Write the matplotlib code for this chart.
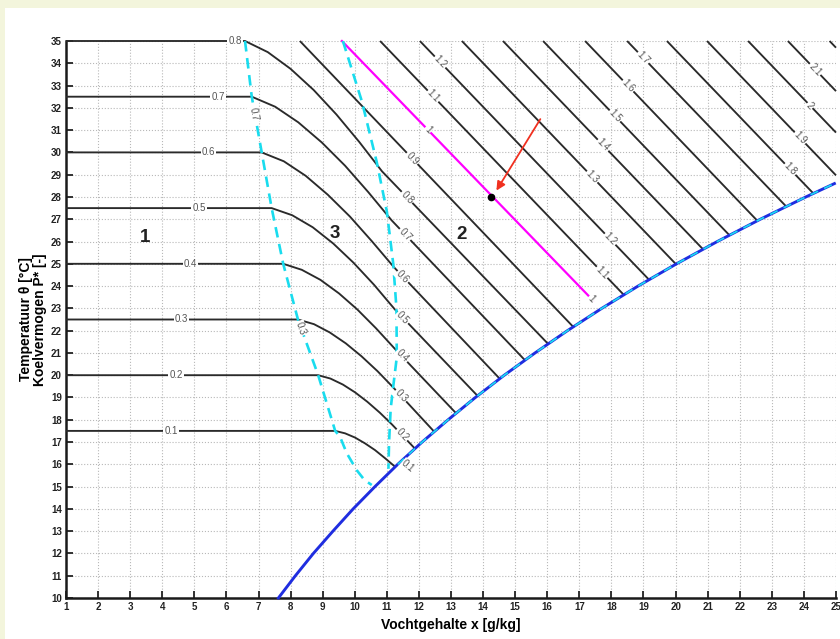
import numpy as np
import matplotlib
matplotlib.use("Agg")
import matplotlib.pyplot as plt
from matplotlib.patches import Rectangle

plt.rcParams['font.family'] = ['Liberation Sans', 'DejaVu Sans']

# Saturation line: temperature T [°C] and moisture content x [g/kg]
sat_T = [10, 11, 12, 13, 14, 15, 16, 17, 18, 19, 20, 21, 22, 23, 24, 25, 26, 27, 28, 28.6]
sat_x = [7.62, 8.15, 8.71, 9.32, 9.95, 10.63, 11.34, 12.10, 12.91, 13.76, 14.66,
         15.62, 16.63, 17.70, 18.83, 20.03, 21.30, 22.64, 24.06, 24.95]

# Zone boundaries (cyan dashed)
bound_left_x = [6.58, 6.79, 7.10, 7.41, 7.77, 8.23, 8.86, 9.39, 9.54, 9.75, 10.06, 10.30, 10.53]
bound_left_T = [35.0, 32.5, 30.0, 27.5, 25.0, 22.5, 20.0, 17.5, 17.24, 16.5, 15.74, 15.30, 15.07]
bound_right_x = [9.63, 10.22, 10.68, 11.00, 11.20, 11.30, 11.31, 11.20, 11.12, 11.07, 11.05]
bound_right_T = [35.0, 32.3, 29.6, 27.35, 25.0, 23.0, 20.8, 19.5, 18.5, 17.0, 15.8]

# Cooling capacity P* contours in zones 1, 3 and 2 (levels 0.1 .. 0.8):
# horizontal part from x = 1, curved part in zone 3, straight part in zone 2
low_levels = [0.1, 0.2, 0.3, 0.4, 0.5, 0.6, 0.7, 0.8]
low_x = [
    [9.39, 9.70, 10.01, 10.32, 10.63, 10.94, 11.25],
    [8.86, 9.24, 9.63, 10.01, 10.39, 10.78, 11.16, 11.88],
    [8.23, 8.73, 9.22, 9.72, 10.21, 10.71, 11.20, 12.48],
    [7.77, 8.35, 8.93, 9.51, 10.08, 10.66, 11.24, 13.16],
    [7.41, 8.05, 8.69, 9.33, 9.96, 10.60, 11.24, 13.83],
    [7.10, 7.79, 8.47, 9.16, 9.85, 10.53, 11.22, 14.52],
    [6.79, 7.52, 8.24, 8.97, 9.70, 10.42, 11.15, 15.30],
    [6.58, 7.29, 8.00, 8.72, 9.43, 10.14, 10.85, 16.03],
]
low_T = [
    [17.5, 17.39, 17.20, 16.94, 16.64, 16.28, 15.90],
    [20.0, 19.85, 19.58, 19.23, 18.81, 18.32, 17.79, 16.70],
    [22.5, 22.29, 21.92, 21.43, 20.85, 20.18, 19.45, 17.46],
    [25.0, 24.73, 24.28, 23.67, 22.95, 22.11, 21.20, 18.29],
    [27.5, 27.18, 26.64, 25.91, 25.05, 24.06, 22.97, 19.07],
    [30.0, 29.60, 28.95, 28.10, 27.12, 26.02, 24.85, 19.84],
    [32.5, 32.05, 31.35, 30.45, 29.40, 28.22, 26.95, 20.68],
    [35.0, 34.50, 33.75, 32.80, 31.70, 30.47, 29.15, 21.40],
]
low_label_h = [4.27, 4.43, 4.60, 4.87, 5.15, 5.45, 5.74, 6.27]
low_label_d = [11.66, 11.47, 11.44, 11.47, 11.50, 11.50, 11.57, 11.63]

# Straight contours in zone 2 (levels 0.9 .. 2.2): start and end points
high_levels = [0.9, 1.0, 1.1, 1.2, 1.3, 1.4, 1.5, 1.6, 1.7, 1.8, 1.9, 2.0, 2.1, 2.2]
high_x0 = [8.29, 9.60, 10.79, 12.03, 13.34, 14.62, 15.87, 17.18, 18.49, 19.73, 20.98, 22.26, 23.50, 24.80]
high_T0 = [35.0] * 14
high_x1 = [16.81, 17.43, 18.39, 19.17, 20.00, 20.85, 21.68, 22.55, 23.45, 24.30, 25.0, 25.0, 25.0, 25.0]
high_T1 = [22.17, 23.35, 23.60, 24.29, 25.00, 25.66, 26.28, 26.93, 27.57, 28.15, 28.97, 30.89, 32.75, 34.70]
high_labels = [[11.79], [12.28, 17.38], [12.44, 17.71], [12.66, 17.96], [17.40], [17.74],
               [18.11], [18.52], [18.99], [23.57], [23.88], [24.19], [24.35], []]

# Operating point and arrow
point_x, point_T = 14.24, 28.02
arrow_from = (15.83, 31.6)
arrow_to = (14.37, 28.18)

# Zone numbers
zone_names = ['1', '3', '2']
zone_x = [3.46, 9.39, 13.34]
zone_T = [26.2, 26.38, 26.3]

fig = plt.figure(figsize=(8.4, 6.39), dpi=100)
fig.patch.set_facecolor('#f3f5dc')
fig.add_artist(Rectangle((5 / 840, 0), 1, (639 - 8) / 639, transform=fig.transFigure,
                         facecolor='white', edgecolor='none', zorder=0))
ax = fig.add_axes([66 / 840, 41 / 639, 770 / 840, 557 / 639])
ax.set_facecolor('white')
ax.set_xlim(1, 25)
ax.set_ylim(10, 35)
ax.set_xticks(range(1, 26))
ax.set_yticks(range(10, 36))
ax.grid(True, ls=':', color='#b8b8b8', lw=0.8)
ax.set_axisbelow(True)
for s in ['top', 'right']:
    ax.spines[s].set_visible(False)
for s in ['left', 'bottom']:
    ax.spines[s].set_linewidth(1.8)
    ax.spines[s].set_color('#1a1a1a')
ax.tick_params(direction='in', length=5, width=1.3, labelsize=7, pad=3, colors='#222222')
for lab in ax.get_xticklabels() + ax.get_yticklabels():
    lab.set_fontweight('bold')

line_kw = dict(color='#2a2a2a', lw=1.35, solid_capstyle='butt', clip_on=False, zorder=3)
lab_kw = dict(fontsize=7, color='#555555', ha='center', va='center', zorder=6,
              bbox=dict(facecolor='white', edgecolor='none', pad=0.7))

# low-level contours
for lev, xs, Ts, xh, xd in zip(low_levels, low_x, low_T, low_label_h, low_label_d):
    px = [1.0] + xs
    pT = [Ts[0]] + Ts
    ax.plot(px, pT, **line_kw)
    ax.text(xh, Ts[0], f"{lev:g}", **lab_kw)
    Td = np.interp(xd, xs, Ts)
    ang = np.degrees(np.arctan2(Ts[-1] - Ts[-2], xs[-1] - xs[-2]))
    ax.text(xd, Td, f"{lev:g}", rotation=ang, transform_rotates_text=True, **lab_kw)

# high-level contours
for lev, x0, T0, x1, T1, labs in zip(high_levels, high_x0, high_T0, high_x1, high_T1, high_labels):
    if lev == 1.0:
        ax.plot([x0, x1], [T0, T1], color='#ff00ff', lw=1.6, zorder=4, clip_on=False)
    else:
        ax.plot([x0, x1], [T0, T1], **line_kw)
    ang = np.degrees(np.arctan2(T1 - T0, x1 - x0))
    for xl in labs:
        Tl = np.interp(xl, [x0, x1], [T0, T1])
        ax.text(xl, Tl, f"{lev:g}", rotation=ang, transform_rotates_text=True, **lab_kw)

# labels along the left boundary
ax.text(6.85, 31.7, "0.7", rotation=-80, **lab_kw)
ax.text(8.30, 22.1, "0.3", rotation=-72, **lab_kw)

# saturation line with the boundary running along it
ax.plot(sat_x, sat_T, color='#1f2de0', lw=2.1, zorder=5, clip_on=False)
ax.plot(sat_x[6:], sat_T[6:], color='#19e0f0', lw=1.2, ls=(0, (5, 4)), zorder=5)

# zone boundaries
cyan_kw = dict(color='#19dcee', lw=1.9, ls=(0, (4, 2.5)), zorder=4)
ax.plot(bound_left_x, bound_left_T, **cyan_kw)
ax.plot(bound_right_x, bound_right_T, **cyan_kw)

# operating point
ax.plot([point_x], [point_T], 'o', color='black', ms=4.5, zorder=7)
ax.annotate('', xy=arrow_to, xytext=arrow_from,
            arrowprops=dict(arrowstyle='-|>', color='#f03020', lw=1.3, mutation_scale=13),
            zorder=7)

for name, zx, zT in zip(zone_names, zone_x, zone_T):
    ax.text(zx, zT, name, fontsize=13.5, fontweight='bold', color='#222222',
            ha='center', va='center', zorder=6)

ax.set_xlabel("Vochtgehalte x [g/kg]", fontsize=10, fontweight='bold', labelpad=4)
ax.set_ylabel("Temperatuur θ [°C]\nKoelvermogen P* [-]", fontsize=10, fontweight='bold',
              labelpad=3, linespacing=1.0)

fig.savefig("out.png", dpi=100, facecolor=fig.get_facecolor())
